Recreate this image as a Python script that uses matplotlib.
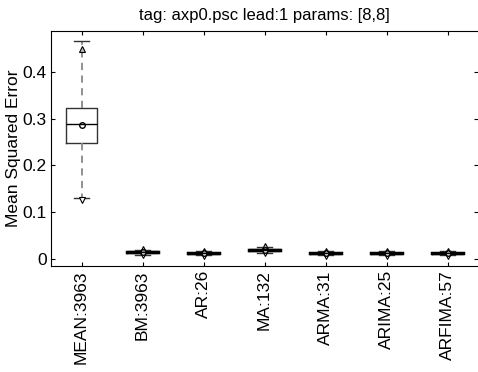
import matplotlib
matplotlib.use('Agg')
import matplotlib.pyplot as plt
import numpy as np

plt.rcParams['font.family'] = ['Liberation Sans', 'DejaVu Sans']

# Data
labels = ['MEAN:3963', 'BM:3963', 'AR:26', 'MA:132', 'ARMA:31', 'ARIMA:25', 'ARFIMA:57']
q1 = [0.248, 0.012, 0.011, 0.017, 0.011, 0.011, 0.011]
med = [0.289, 0.014, 0.012, 0.019, 0.012, 0.012, 0.012]
q3 = [0.323, 0.016, 0.013, 0.021, 0.013, 0.013, 0.013]
whislo = [0.131, 0.009, 0.008, 0.013, 0.008, 0.008, 0.008]
whishi = [0.466, 0.020, 0.016, 0.026, 0.016, 0.016, 0.016]
means = [0.287, 0.014, 0.012, 0.019, 0.012, 0.012, 0.012]
p_lo = [0.126, 0.008, 0.007, 0.012, 0.007, 0.007, 0.007]
p_hi = [0.449, 0.021, 0.017, 0.027, 0.017, 0.017, 0.017]

stats = []
for i in range(len(labels)):
    stats.append(dict(label=labels[i], q1=q1[i], med=med[i], q3=q3[i],
                      whislo=whislo[i], whishi=whishi[i], mean=means[i], fliers=[]))

fig = plt.figure(figsize=(4.78, 3.72), dpi=100)
ax = fig.add_axes([51 / 478, 1 - 266 / 372, 427 / 478, 235 / 372])

pos = np.arange(1, len(labels) + 1)
ax.bxp(stats, positions=pos, widths=0.5, showmeans=True, meanline=False,
       boxprops=dict(color='#333333', linewidth=1.0),
       medianprops=dict(color='black', linewidth=1.0),
       whiskerprops=dict(color='#888888', linestyle=(0, (4, 3)), linewidth=1.3),
       capprops=dict(color='#333333', linewidth=1.0),
       meanprops=dict(marker='o', markerfacecolor='none', markeredgecolor='black',
                      markersize=4))

# small boxes look like thick bars
for i in range(1, len(labels)):
    ax.plot([pos[i] - 0.25, pos[i] + 0.25], [med[i], med[i]], color='black', linewidth=2.5)

ax.plot(pos, p_hi, linestyle='none', marker='^', markersize=5,
        markerfacecolor='#bbbbbb', markeredgecolor='black', markeredgewidth=0.8)
ax.plot(pos, p_lo, linestyle='none', marker='v', markersize=5,
        markerfacecolor='white', markeredgecolor='black', markeredgewidth=0.8)

ax.set_xlim(0.5, len(labels) + 0.5)
ax.set_ylim(-0.015, 0.487)
ax.set_yticks([0, 0.1, 0.2, 0.3, 0.4])
ax.set_yticklabels(['0', '0.1', '0.2', '0.3', '0.4'])
ax.set_xticks(pos)
ax.set_xticklabels(labels, rotation=90)
ax.tick_params(direction='in', top=True, right=True, labelsize=12.5, length=3,
               pad=3)
ax.spines['right'].set_visible(False)  # right border falls just off the picture
ax.set_ylabel('Mean Squared Error', fontsize=12.5, labelpad=1)
ax.set_title('tag: axp0.psc lead:1 params: [8,8]', fontsize=12, pad=8)

fig.savefig('out.png', dpi=100)
